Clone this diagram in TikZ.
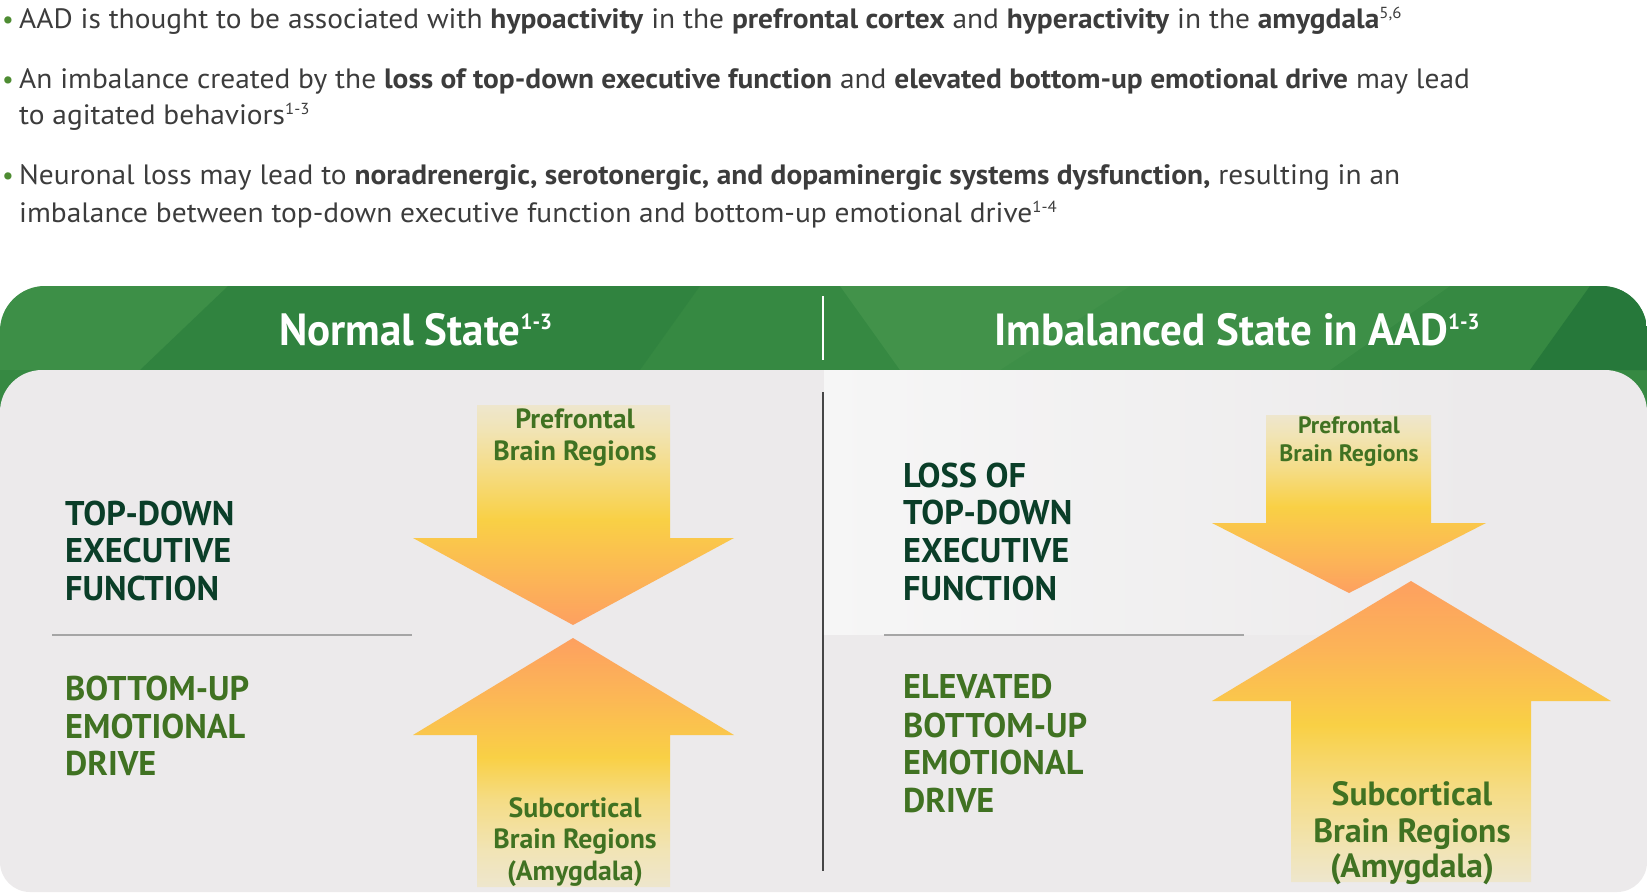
\documentclass[tikz,border=0pt]{standalone}
\usepackage{fontspec}
\setmainfont{PT Sans}
\newfontfamily\bodyfont[FakeStretch=1.05]{PT Sans}
\newfontfamily\headfont[FakeStretch=0.955]{PT Sans}
\newcommand\mysupH[1]{\raisebox{16pt}{\fontsize{22}{22}\selectfont #1}}
\newcommand\mysupB[1]{\raisebox{9.5pt}{\fontsize{16}{16}\selectfont #1}}
\definecolor{bodytext}{RGB}{60,60,60}
\definecolor{bulletgreen}{RGB}{78,140,50}
\definecolor{hdrgreen}{RGB}{54,137,66}
\definecolor{hdrlight}{RGB}{76,155,82}
\definecolor{hdrdark}{RGB}{34,116,56}
\definecolor{panelgray}{RGB}{236,234,235}
\definecolor{panellight}{RGB}{246,246,246}
\definecolor{darkgreen}{RGB}{10,62,40}
\definecolor{midgreen}{RGB}{64,114,34}
\definecolor{sepgray}{RGB}{165,165,165}
\definecolor{divgray}{RGB}{70,70,70}
\definecolor{cTip}{RGB}{253,160,96}
\definecolor{cOr}{RGB}{252,180,87}
\definecolor{cYel}{RGB}{249,208,69}
\definecolor{cLt}{RGB}{245,220,133}
\definecolor{cPale}{RGB}{241,228,181}
\definecolor{cEnd}{RGB}{238,230,205}
\pgfdeclareverticalshading{arrLT}{100bp}{color(0bp)=(cTip); color(25bp)=(cTip); color(35.2bp)=(cOr); color(48.9bp)=(cYel); color(60.2bp)=(cLt); color(69.3bp)=(cPale); color(75bp)=(cEnd); color(100bp)=(cEnd)}
\pgfdeclareverticalshading{arrLB}{100bp}{color(0bp)=(cEnd); color(25bp)=(cEnd); color(32.4bp)=(cPale); color(42.5bp)=(cLt); color(51.1bp)=(cYel); color(64.6bp)=(cOr); color(75bp)=(cTip); color(100bp)=(cTip)}
\pgfdeclareverticalshading{arrRT}{100bp}{color(0bp)=(cTip); color(25bp)=(cTip); color(34.3bp)=(cOr); color(49.2bp)=(cYel); color(59.6bp)=(cLt); color(69.4bp)=(cPale); color(75bp)=(cEnd); color(100bp)=(cEnd)}
\pgfdeclareverticalshading{arrRB}{100bp}{color(0bp)=(cEnd); color(25bp)=(cEnd); color(30.3bp)=(cPale); color(40.3bp)=(cLt); color(51.1bp)=(cYel); color(63.5bp)=(cOr); color(75bp)=(cTip); color(100bp)=(cTip)}
\tikzset{
  bul/.style={anchor=base west, inner sep=0pt, text=bodytext, font=\bodyfont\fontsize{28}{33}\selectfont},
  dot/.style={anchor=base west, inner sep=0pt, text=bulletgreen, font=\fontsize{26}{31}\selectfont},
  hdr/.style={anchor=base west, inner sep=0pt, text=white, font=\headfont\bfseries\fontsize{45}{50}\selectfont},
  topside/.style={anchor=base west, inner sep=0pt, text=darkgreen, font=\bfseries\fontsize{34.3}{38}\selectfont},
  botside/.style={anchor=base west, inner sep=0pt, text=midgreen, font=\bfseries\fontsize{34.3}{38}\selectfont},
  labL/.style={anchor=base, inner sep=0pt, text=midgreen, font=\bfseries\fontsize{27.8}{30}\selectfont},
  labRs/.style={anchor=base, inner sep=0pt, text=midgreen, font=\bfseries\fontsize{23.7}{26}\selectfont},
  labRb/.style={anchor=base, inner sep=0pt, text=midgreen, font=\bfseries\fontsize{33.6}{35}\selectfont},
  sepline/.style={draw=sepgray, line width=2.5pt},
}
\begin{document}
\begin{tikzpicture}[x=1pt,y=-1pt]
\useasboundingbox (0,0) rectangle (1647,892);
% header band
\begin{scope}
  \clip[rounded corners=45pt] (0,480) -- (0,286) -- (1647,286) -- (1647,480) -- cycle;
  \fill[hdrgreen] (0,286) rectangle (1647,480);
  \fill[hdrlight, opacity=0.35] (0,286) -- (228,286) -- (140,370) -- (0,370) -- cycle;
  \fill[hdrdark, opacity=0.25] (228,286) -- (700,286) -- (640,370) -- (140,370) -- cycle;
  \fill[hdrlight, opacity=0.55] (840,286) -- (1130,286) -- (1000,370) -- (900,370) -- cycle;
  \fill[hdrlight, opacity=0.35] (1130,286) -- (1450,286) -- (1330,370) -- (1000,370) -- cycle;
  \fill[hdrdark, opacity=0.8] (1590,286) -- (1647,286) -- (1647,370) -- (1530,370) -- cycle;
\end{scope}
\draw[white, line width=2pt] (823,296) -- (823,360);
\node[hdr] (t1) at (279,345) {Normal State\mysupH{1-3}};
\node[hdr] (t2) at (994,345) {Imbalanced State in AAD\mysupH{1-3}};
% gray panel
\fill[panelgray, rounded corners=42pt] (0,370) rectangle (1647,700);
\fill[panelgray, rounded corners=30pt] (0,600) rectangle (1647,892);
\shade[left color=panellight, right color=panelgray] (824,370) rectangle (1480,634);
\draw[divgray, line width=1.5pt] (823,392) -- (823,871);
\draw[sepline] (52,635) -- (412,635);
\draw[sepline] (884,635) -- (1244,635);
% arrows
\path[shading=arrLT] (477,405) -- (670,405) -- (670,538) -- (734,538) -- (573,625) -- (413,538) -- (477,538) -- cycle;
\path[shading=arrLB] (573,638) -- (734,735) -- (670,735) -- (670,887) -- (477,887) -- (477,735) -- (413,735) -- cycle;
\path[shading=arrRT] (1266,415) -- (1431,415) -- (1431,523) -- (1486,523) -- (1349,593) -- (1212,523) -- (1266,523) -- cycle;
\path[shading=arrRB] (1411,581) -- (1611,701) -- (1531,701) -- (1531,882) -- (1291,882) -- (1291,701) -- (1212,701) -- cycle;
% bullets
\node[dot] (d1) at (2,28) {•};
\node[bul] (b1) at (19,28) {AAD is thought to be associated with \textbf{hypoactivity} in the \textbf{prefrontal cortex} and \textbf{hyperactivity} in the \textbf{amygdala}\mysupB{5,6}};
\node[dot] (d2) at (2,88) {•};
\node[bul] (b2) at (19,88) {An imbalance created by the \textbf{loss of top-down executive function} and \textbf{elevated bottom-up emotional drive} may lead};
\node[bul] (b2b) at (19,124) {to agitated behaviors\mysupB{1-3}};
\node[dot] (d3) at (2,184) {•};
\node[bul] (b3) at (19,184) {Neuronal loss may lead to \textbf{noradrenergic, serotonergic, and dopaminergic systems dysfunction,} resulting in an};
\node[bul] (b3b) at (19,222) {imbalance between top-down executive function and bottom-up emotional drive\mysupB{1-4}};
% left side labels
\node[topside] (l1) at (65,525) {TOP-DOWN};
\node[topside] (l2) at (65,562) {EXECUTIVE};
\node[topside] (l3) at (65,600) {FUNCTION};
\node[botside] (l4) at (65,700) {BOTTOM-UP};
\node[botside] (l5) at (65,738) {EMOTIONAL};
\node[botside] (l6) at (65,775) {DRIVE};
% right side labels
\node[topside] (r1) at (903,487) {LOSS OF};
\node[topside] (r2) at (903,524) {TOP-DOWN};
\node[topside] (r3) at (903,562) {EXECUTIVE};
\node[topside] (r4) at (903,600) {FUNCTION};
\node[botside] (r5) at (903,698) {ELEVATED};
\node[botside] (r6) at (903,737) {BOTTOM-UP};
\node[botside] (r7) at (903,774) {EMOTIONAL};
\node[botside] (r8) at (903,812) {DRIVE};
% arrow labels
\node[labL] (a1) at (575,428) {Prefrontal};
\node[labL] (a2) at (575,460) {Brain Regions};
\node[labL] (a3) at (575,817) {Subcortical};
\node[labL] (a4) at (575,848) {Brain Regions};
\node[labL] (a5) at (575,880) {(Amygdala)};
\node[labRs] (a6) at (1349,433) {Prefrontal};
\node[labRs] (a7) at (1349,461) {Brain Regions};
\node[labRb] (a8) at (1412,805) {Subcortical};
\node[labRb] (a9) at (1412,842) {Brain Regions};
\node[labRb] (a10) at (1412,877) {(Amygdala)};
\end{tikzpicture}
\end{document}
